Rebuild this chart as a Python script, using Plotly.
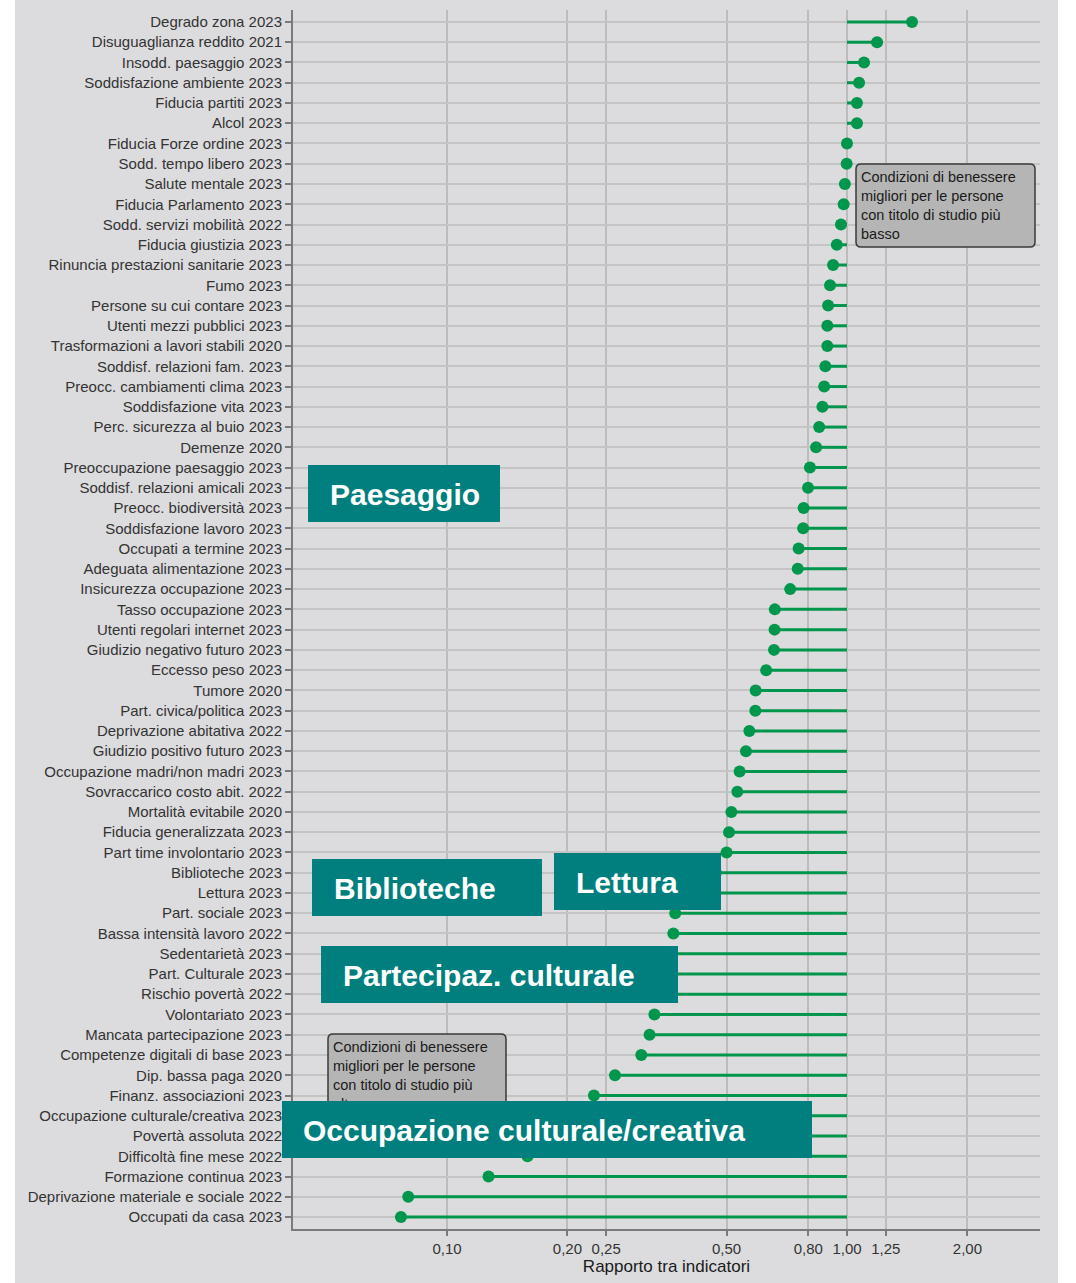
import plotly.graph_objects as go

# ---------------- data ----------------
indicators = [
    "Degrado zona 2023", "Disuguaglianza reddito 2021", "Insodd. paesaggio 2023",
    "Soddisfazione ambiente 2023", "Fiducia partiti 2023", "Alcol 2023",
    "Fiducia Forze ordine 2023", "Sodd. tempo libero 2023", "Salute mentale 2023",
    "Fiducia Parlamento 2023", "Sodd. servizi mobilità 2022", "Fiducia giustizia 2023",
    "Rinuncia prestazioni sanitarie 2023", "Fumo 2023", "Persone su cui contare 2023",
    "Utenti mezzi pubblici 2023", "Trasformazioni a lavori stabili 2020",
    "Soddisf. relazioni fam. 2023", "Preocc. cambiamenti clima 2023",
    "Soddisfazione vita 2023", "Perc. sicurezza al buio 2023", "Demenze 2020",
    "Preoccupazione paesaggio 2023", "Soddisf. relazioni amicali 2023",
    "Preocc. biodiversità 2023", "Soddisfazione lavoro 2023", "Occupati a termine 2023",
    "Adeguata alimentazione 2023", "Insicurezza occupazione 2023",
    "Tasso occupazione 2023", "Utenti regolari internet 2023",
    "Giudizio negativo futuro 2023", "Eccesso peso 2023", "Tumore 2020",
    "Part. civica/politica 2023", "Deprivazione abitativa 2022",
    "Giudizio positivo futuro 2023", "Occupazione madri/non madri 2023",
    "Sovraccarico costo abit. 2022", "Mortalità evitabile 2020",
    "Fiducia generalizzata 2023", "Part time involontario 2023", "Biblioteche 2023",
    "Lettura 2023", "Part. sociale 2023", "Bassa intensità lavoro 2022",
    "Sedentarietà 2023", "Part. Culturale 2023", "Rischio povertà 2022",
    "Volontariato 2023", "Mancata partecipazione 2023",
    "Competenze digitali di base 2023", "Dip. bassa paga 2020",
    "Finanz. associazioni 2023", "Occupazione culturale/creativa 2023",
    "Povertà assoluta 2022", "Difficoltà fine mese 2022", "Formazione continua 2023",
    "Deprivazione materiale e sociale 2022", "Occupati da casa 2023",
]

ratios = [
    1.454, 1.189, 1.103, 1.072, 1.059, 1.059,
    1.000, 0.998, 0.988, 0.981, 0.966, 0.943,
    0.923, 0.907, 0.897, 0.893, 0.893, 0.883,
    0.877, 0.868, 0.852, 0.837, 0.808, 0.799,
    0.779, 0.777, 0.757, 0.753, 0.721, 0.660,
    0.659, 0.657, 0.628, 0.591, 0.590, 0.570,
    0.559, 0.539, 0.532, 0.514, 0.507, 0.500,
    0.470, 0.420, 0.372, 0.368, 0.360, 0.350,
    0.340, 0.330, 0.321, 0.306, 0.263, 0.233,
    0.210, 0.180, 0.159, 0.127, 0.080, 0.0767,
]

reference_value = 1.0

x_tick_values = [0.10, 0.20, 0.25, 0.50, 0.80, 1.00, 1.25, 2.00]
x_tick_labels = ["0,10", "0,20", "0,25", "0,50", "0,80", "1,00", "1,25", "2,00"]

x_title = "Rapporto tra indicatori"

box_upper_text = "Condizioni di benessere<br>migliori per le persone<br>con titolo di studio più<br>basso"
box_lower_text = "Condizioni di benessere<br>migliori per le persone<br>con titolo di studio più<br>alto"

highlight_labels = ["Paesaggio", "Biblioteche", "Lettura",
                    "Partecipaz. culturale", "Occupazione culturale/creativa"]

# ---------------- styling / geometry ----------------
W, H = 1076, 1283
PL, PR, PT, PB = 293, 1040, 10, 1229      # plot area in pixels
GREEN = "#00964b"
TEAL = "#007f7e"
PANEL = "#dcdcde"
FONT = "Liberation Sans, Arial, sans-serif"


def px(x):
    return (x - PL) / (PR - PL)


def py(y):
    return (PB - y) / (PB - PT)


def rounded_path(x0, y0, x1, y1, r):
    pts = [
        ("M", [(x0 + r, y0)]), ("L", [(x1 - r, y0)]), ("Q", [(x1, y0), (x1, y0 + r)]),
        ("L", [(x1, y1 - r)]), ("Q", [(x1, y1), (x1 - r, y1)]), ("L", [(x0 + r, y1)]),
        ("Q", [(x0, y1), (x0, y1 - r)]), ("L", [(x0, y0 + r)]), ("Q", [(x0, y0), (x0 + r, y0)]),
    ]
    s = ""
    for cmd, ps in pts:
        s += cmd + " " + " ".join(f"{px(a):.5f},{py(b):.5f}" for a, b in ps) + " "
    return s + "Z"


# ---------------- traces ----------------
line_x, line_y = [], []
for lab, v in zip(indicators, ratios):
    line_x += [reference_value, v, None]
    line_y += [lab, lab, None]

fig = go.Figure()
fig.add_trace(go.Scatter(
    x=line_x, y=line_y, mode="lines",
    line=dict(color=GREEN, width=3), hoverinfo="skip", showlegend=False,
))
fig.add_trace(go.Scatter(
    x=ratios, y=indicators, mode="markers",
    marker=dict(color=GREEN, size=12, line=dict(width=0)),
    showlegend=False,
))

n = len(indicators)

shapes = [
    # grey panel behind everything
    dict(type="rect", xref="paper", yref="paper", x0=px(15), x1=px(1058),
         y0=py(1290), y1=py(0), fillcolor=PANEL, line=dict(width=0), layer="below"),
    # reference vertical line at 1
    dict(type="line", xref="x", yref="paper", x0=reference_value, x1=reference_value,
         y0=0, y1=1, line=dict(color="#5a5a5a", width=1.5), layer="between"),
    # grey comment boxes
    dict(type="path", xref="paper", yref="paper", path=rounded_path(856, 164, 1035, 247, 5),
         fillcolor="#b5b5b5", line=dict(color="#3a3a3a", width=1.5), layer="above"),
    dict(type="path", xref="paper", yref="paper", path=rounded_path(328, 1034, 506, 1117, 5),
         fillcolor="#b5b5b5", line=dict(color="#3a3a3a", width=1.5), layer="above"),
]

annotations = [
    dict(xref="paper", yref="paper", x=px(859), y=py(205.5), xanchor="left", yanchor="middle",
         text=box_upper_text, align="left", showarrow=False,
         font=dict(family=FONT, size=14.5, color="#1a1a1a")),
    dict(xref="paper", yref="paper", x=px(331), y=py(1075), xanchor="left", yanchor="middle",
         text=box_lower_text, align="left", showarrow=False,
         font=dict(family=FONT, size=14.5, color="#1a1a1a")),
]

# teal highlight boxes (pixel geometry: left, top, right, bottom, text-left)
teal_geom = [
    (308, 465, 500, 522, 329),
    (312, 859, 542, 916, 333),
    (554, 853, 721, 910, 575),
    (321, 946, 678, 1003, 342),
    (282, 1101, 812, 1158, 302),
]
for label, (l, t, r, b, tl) in zip(highlight_labels, teal_geom):
    annotations.append(dict(
        xref="paper", yref="paper", x=px((l + r) / 2), y=py((t + b) / 2),
        xanchor="center", yanchor="middle", width=r - l, height=b - t,
        text="\u00a0", bgcolor=TEAL, borderpad=0, borderwidth=0, showarrow=False,
        font=dict(size=10),
    ))
    annotations.append(dict(
        xref="paper", yref="paper", x=px(tl), y=py((t + b) / 2 + 1),
        xanchor="left", yanchor="middle", text=f"<b>{label}</b>",
        showarrow=False, borderpad=0,
        font=dict(family=FONT, size=30, color="white"),
    ))

fig.update_layout(
    width=W, height=H, autosize=False,
    margin=dict(l=PL, r=W - PR, t=PT, b=H - PB, pad=0),
    paper_bgcolor="white", plot_bgcolor="rgba(0,0,0,0)",
    font=dict(family=FONT, color="#333333"),
    shapes=shapes, annotations=annotations,
    xaxis=dict(
        type="log", range=[-1.385, 0.4825],
        tickvals=x_tick_values, ticktext=x_tick_labels,
        showgrid=True, gridcolor="#bcbcbc", gridwidth=1.5,
        showline=True, linecolor="#7a7a7a", linewidth=2,
        ticks="outside", ticklen=5, tickcolor="#7a7a7a", tickwidth=1.5,
        tickfont=dict(family=FONT, size=15, color="#333333"),
        title=dict(text=x_title, font=dict(family=FONT, size=17, color="#1a1a1a"), standoff=4),
        zeroline=False,
    ),
    yaxis=dict(
        type="category", categoryorder="array", categoryarray=indicators,
        range=[n - 1 + 0.59, -0.59],
        showgrid=True, gridcolor="#c4c4c4", gridwidth=2,
        showline=True, linecolor="#7a7a7a", linewidth=2,
        ticks="outside", ticklen=6, tickcolor="#7a7a7a", tickwidth=2,
        tickfont=dict(family=FONT, size=15, color="#333333"),
        zeroline=False,
    ),
)

fig.write_html("out.html", config={"displayModeBar": False},
               post_script="document.body.style.margin='0';")
